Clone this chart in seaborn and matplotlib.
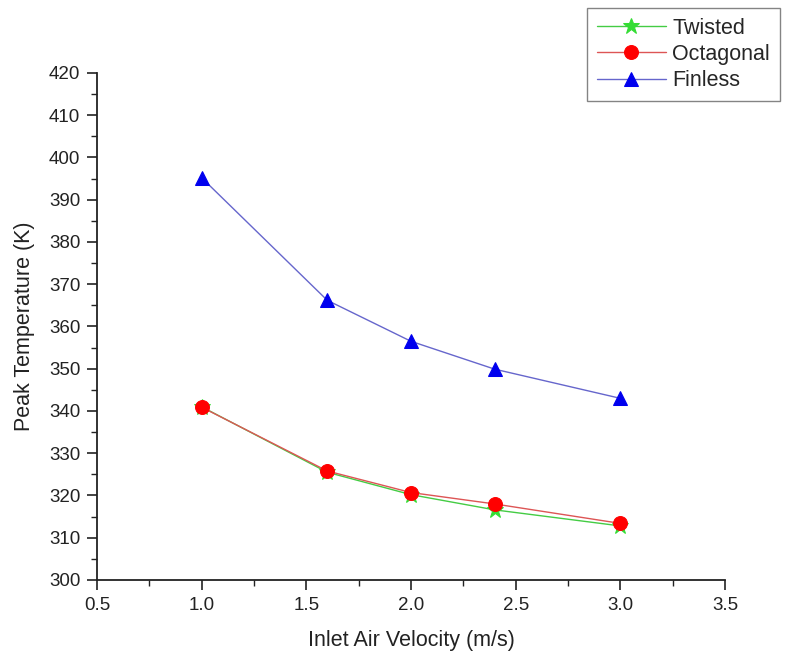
import numpy as np
import pandas as pd
import matplotlib
matplotlib.use("Agg")
import matplotlib.pyplot as plt
import seaborn as sns
from matplotlib.ticker import MultipleLocator

# data
velocity = [1.0, 1.6, 2.0, 2.4, 3.0]
twisted = [341.0, 325.5, 320.2, 316.6, 312.8]
octagonal = [340.9, 325.8, 320.7, 318.0, 313.4]
finless = [395.2, 366.2, 356.5, 349.9, 343.0]

df = pd.DataFrame({
    "velocity": velocity * 3,
    "temp": twisted + octagonal + finless,
    "series": ["Twisted"] * 5 + ["Octagonal"] * 5 + ["Finless"] * 5,
})

sns.set_theme(style="ticks")
plt.rcParams["font.family"] = ["Liberation Sans", "DejaVu Sans"]

fig = plt.figure(figsize=(7.93, 6.57), dpi=100)
ax = fig.add_axes([0.1223, 0.1172, 0.7919, 0.7717])

palette = {"Twisted": "#33dd33", "Octagonal": "#ff0000", "Finless": "#0000ee"}
line_cols = {"Twisted": "#44cc44", "Octagonal": "#dd5555", "Finless": "#6666cc"}
markers = {"Twisted": "*", "Octagonal": "o", "Finless": "^"}
sizes = {"Twisted": 12, "Octagonal": 10, "Finless": 10}

for name in ["Twisted", "Octagonal", "Finless"]:
    sub = df[df["series"] == name]
    sns.lineplot(data=sub, x="velocity", y="temp", ax=ax, color=line_cols[name],
                 linewidth=1.0, marker=markers[name], markersize=sizes[name],
                 markerfacecolor=palette[name], markeredgecolor=palette[name],
                 label=name)

ax.set_xlim(0.5, 3.5)
ax.set_ylim(300, 420)
ax.xaxis.set_major_locator(MultipleLocator(0.5))
ax.xaxis.set_minor_locator(MultipleLocator(0.25))
ax.yaxis.set_major_locator(MultipleLocator(10))
ax.yaxis.set_minor_locator(MultipleLocator(5))
ax.tick_params(which="major", direction="out", length=7, width=1.2, labelsize=13.5,
               colors="#222222", pad=5)
ax.tick_params(which="minor", direction="out", length=4, width=1.0, colors="#222222")
ax.xaxis.set_major_formatter(matplotlib.ticker.FormatStrFormatter("%.1f"))
sns.despine(ax=ax)
for s in ["left", "bottom"]:
    ax.spines[s].set_linewidth(1.3)
    ax.spines[s].set_color("#222222")

ax.set_xlabel("Inlet Air Velocity (m/s)", fontsize=15.5, labelpad=12, color="#222222")
ax.set_ylabel("Peak Temperature (K)", fontsize=15.5, labelpad=10, color="#222222")

leg = ax.legend(loc="upper right", bbox_to_anchor=(0.983, 0.988),
                bbox_transform=fig.transFigure, fontsize=15.5, frameon=True,
                fancybox=False, edgecolor="#666666", handlelength=3.2,
                borderpad=0.45, labelspacing=0.25, handletextpad=0.3,
                borderaxespad=0)
leg.get_frame().set_linewidth(1.0)

fig.savefig("out.png", dpi=100)
